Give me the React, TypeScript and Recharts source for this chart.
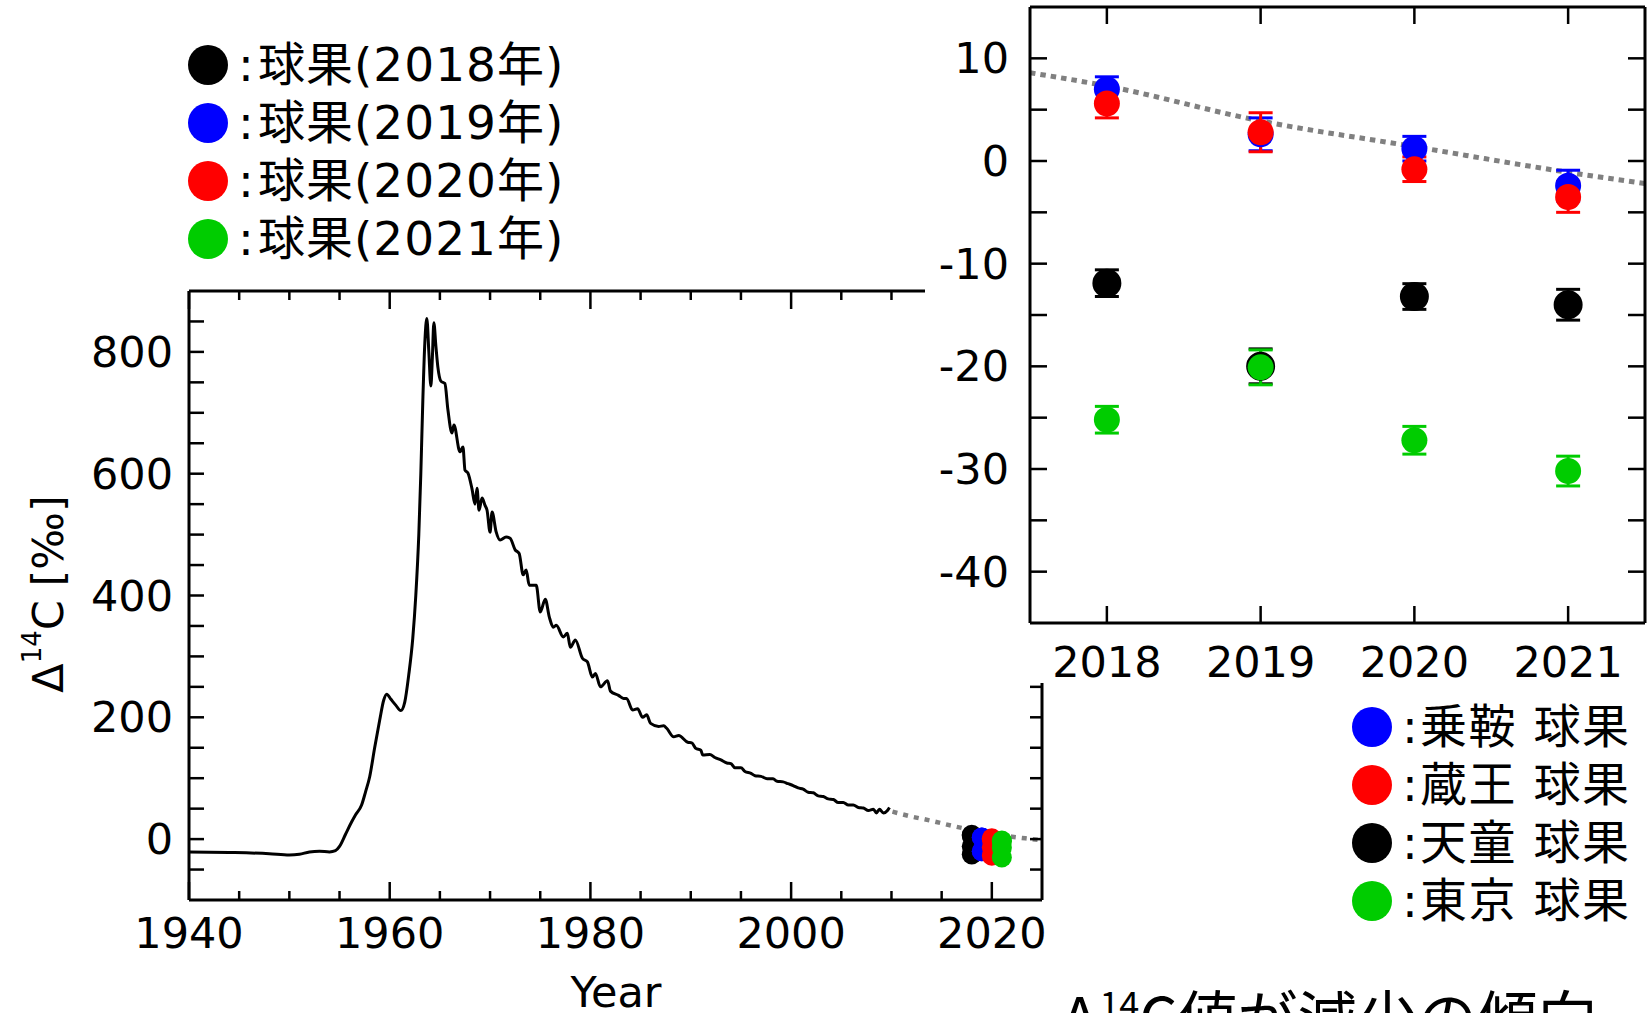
import React from "react";
import { ComposedChart, Line, Scatter, XAxis, YAxis, ErrorBar } from "recharts";

// atmospheric Δ14C record
const bombYears = [
  1940, 1944, 1948, 1950, 1951, 1952, 1953, 1954, 1954.6, 1955, 1955.6, 1956.2, 1956.6, 1957.2, 1957.6,
  1958, 1958.5, 1959, 1959.4, 1959.7, 1960.1, 1960.6, 1961.1, 1961.5, 1961.9, 1962.3, 1962.6, 1962.9,
  1963.1, 1963.3, 1963.5, 1963.7, 1963.9, 1964.1, 1964.25, 1964.4, 1964.6, 1964.8, 1965.1, 1965.5,
  1965.8, 1966.2, 1966.4, 1967.0, 1967.3, 1967.5, 1967.8, 1968.2, 1968.5, 1968.7, 1968.9, 1969.2,
  1969.5, 1969.7, 1970.0, 1970.2, 1970.6, 1971.0, 1971.6, 1972.0, 1972.5, 1972.9, 1973.3, 1973.6,
  1973.9, 1974.6, 1975.0, 1975.5, 1975.9, 1976.3, 1976.6, 1977.3, 1977.7, 1978.0, 1978.5, 1979.2,
  1979.7, 1980.2, 1980.5, 1981.0, 1981.7, 1982.0, 1982.8, 1983.3, 1983.6, 1984.2, 1984.7, 1985.2,
  1985.6, 1986.0, 1986.8, 1987.3, 1987.6, 1988.3, 1988.8, 1989.7, 1990.1, 1990.5, 1991.0, 1991.2,
  1991.9, 1992.4, 1993.0, 1993.6, 1994.0, 1994.4, 1995.0, 1995.4, 1996.0, 1996.4, 1997.0, 1997.6,
  1998.2, 1998.6, 1999.2, 1999.7, 2000.2, 2000.7, 2001.2, 2001.7, 2002.2, 2002.7, 2003.2, 2003.7,
  2004.2, 2004.7, 2005.2, 2005.7, 2006.2, 2006.7, 2007.2, 2007.7, 2008.2, 2008.5, 2008.8, 2009.2,
  2009.6, 2009.8,
];
const bombDelta = [
  -21, -22, -24, -26, -25, -21, -20, -21, -19, -12, 8, 28, 40, 56, 78,
  102, 150, 195, 228, 238, 230, 220, 211, 225, 270, 330, 400, 500,
  600, 720, 815, 855, 800, 744, 790, 848, 810, 775, 752, 748,
  705, 667, 680, 636, 644, 606, 601, 575, 550, 576, 540, 560,
  548, 540, 504, 537, 505, 491, 496, 494, 475, 469, 434, 442,
  417, 417, 373, 394, 365, 348, 351, 332, 338, 315, 327, 297,
  291, 266, 272, 250, 260, 243, 236, 231, 231, 212, 214, 200,
  204, 190, 185, 186, 182, 168, 170, 159, 158, 149, 146, 138,
  139, 134, 130, 125, 124, 117, 117, 111, 108, 104, 103, 99,
  99, 95, 94, 91, 88, 84, 82, 77, 76, 71, 70, 66,
  65, 60, 60, 56, 56, 52, 51, 47, 49, 43, 49, 43,
  47, 52,
];

// dotted extrapolation in the main panel
const extrapYears = [2010.1, 2012, 2014, 2016, 2018, 2020, 2022, 2024, 2025];
const extrapDelta = [45, 37, 30, 22, 15, 9, 4, 0, -2];

// dotted trend in the inset
const insetTrendYears = [2017.5, 2018, 2019, 2020, 2021, 2021.5];
const insetTrendDelta = [8.6, 7.3, 3.9, 1.4, -1.1, -2.2];

const sampleYears = [2018, 2019, 2020, 2021];
const yearColors = ["#000000", "#0000ff", "#ff0000", "#00cc00"];

const siteNames = ["乗鞍", "蔵王", "天童", "東京"];
const siteColors = ["#0000ff", "#ff0000", "#000000", "#00cc00"];
const norikura = [7.0, 2.6, 1.2, -2.4];
const zao = [5.6, 2.8, -0.8, -3.5];
const tendo = [-11.9, -20.0, -13.2, -14.0];
const tokyo = [-25.2, -20.1, -27.2, -30.2];
const norikuraErr = [1.2, 1.6, 1.2, 1.5];
const zaoErr = [1.4, 1.9, 1.2, 1.5];
const tendoErr = [1.3, 1.7, 1.25, 1.5];
const tokyoErr = [1.3, 1.7, 1.35, 1.45];

// ticks
const mainXTicks = [1940, 1945, 1950, 1955, 1960, 1965, 1970, 1975, 1980, 1985, 1990, 1995, 2000, 2005, 2010, 2015, 2020];
const mainXLabels = [1940, 1960, 1980, 2000, 2020];
const mainYTicks = [-50, 0, 50, 100, 150, 200, 250, 300, 350, 400, 450, 500, 550, 600, 650, 700, 750, 800, 850];
const mainYLabels = [0, 200, 400, 600, 800];
const insetXTicks = [2018, 2019, 2020, 2021];
const insetYTicks = [-40, -35, -30, -25, -20, -15, -10, -5, 0, 5, 10];
const insetYLabels = [-40, -30, -20, -10, 0, 10];

const FONT = "'DejaVu Sans', 'Noto Sans CJK JP', sans-serif";
const GREY = "#808080";

const mainCurve = bombYears.map((year, i) => ({ year, v: bombDelta[i] }));
const extrapLine = extrapYears.map((year, i) => ({ year, v: extrapDelta[i] }));
const insetTrend = insetTrendYears.map((year, i) => ({ year, v: insetTrendDelta[i] }));

const siteValues = [norikura, zao, tendo, tokyo];
const siteErrors = [norikuraErr, zaoErr, tendoErr, tokyoErr];

const insetSeries = siteNames.map((name, s) => ({
  name,
  color: siteColors[s],
  points: sampleYears.map((year, i) => ({ year, v: siteValues[s][i], err: siteErrors[s][i] })),
}));

// main panel markers: one colour per sampling year, all sites
const yearMarkers = sampleYears.map((year, i) => ({
  year,
  color: yearColors[i],
  points: siteValues.map((vals) => ({ year, v: vals[i] })),
}));

// --- tick renderers (inward ticks, labels outside) ---
const bottomTick = (labels: number[], major: (v: number) => boolean, dy: number, shortLen: number, longLen: number) => (p: any) => {
  const v = p.payload.value;
  const long = major(v);
  return (
    <g>
      <line x1={p.x} x2={p.x} y1={p.y} y2={p.y - (long ? longLen : shortLen)} stroke="#000" strokeWidth={2.5} />
      {labels.includes(v) && (
        <text x={p.x} y={p.y + dy} textAnchor="middle" fontSize={43} fontFamily={FONT} fill="#000">
          {v}
        </text>
      )}
    </g>
  );
};

const topTick = (major: (v: number) => boolean, shortLen: number, longLen: number) => (p: any) => {
  const long = major(p.payload.value);
  return <line x1={p.x} x2={p.x} y1={p.y} y2={p.y + (long ? longLen : shortLen)} stroke="#000" strokeWidth={2.5} />;
};

const leftTick = (labels: number[], len: number, gap: number) => (p: any) => {
  const v = p.payload.value;
  return (
    <g>
      <line x1={p.x} x2={p.x + len} y1={p.y} y2={p.y} stroke="#000" strokeWidth={2.5} />
      {labels.includes(v) && (
        <text x={p.x - gap} y={p.y + 15} textAnchor="end" fontSize={43} fontFamily={FONT} fill="#000">
          {v}
        </text>
      )}
    </g>
  );
};

const rightTick = (len: number) => (p: any) => (
  <line x1={p.x} x2={p.x - len} y1={p.y} y2={p.y} stroke="#000" strokeWidth={2.5} />
);

const axisLine = { stroke: "#000", strokeWidth: 3 };

const MainPanel = () => (
  <ComposedChart
    width={1100}
    height={1013}
    margin={{ top: 290, right: 57, bottom: 53, left: 89 }}
  >
    <XAxis
      dataKey="year"
      type="number"
      domain={[1940, 2025]}
      allowDataOverflow
      ticks={mainXTicks}
      interval={0}
      height={60}
      tickSize={0}
      tickMargin={0}
      tickLine={false}
      axisLine={axisLine}
      tick={bottomTick(mainXLabels, (v) => v % 20 === 0, 48, 9, 18)}
    />
    <XAxis
      xAxisId="top"
      orientation="top"
      dataKey="year"
      type="number"
      domain={[1940, 2025]}
      allowDataOverflow
      ticks={mainXTicks}
      interval={0}
      height={1}
      tickSize={0}
      tickMargin={0}
      tickLine={false}
      axisLine={axisLine}
      tick={topTick((v) => v % 20 === 0, 9, 18)}
    />
    <YAxis
      type="number"
      domain={[-100, 900]}
      allowDataOverflow
      ticks={mainYTicks}
      interval={0}
      width={100}
      tickSize={0}
      tickMargin={0}
      tickLine={false}
      axisLine={axisLine}
      tick={leftTick(mainYLabels, 15, 16)}
    />
    <YAxis
      yAxisId="right"
      orientation="right"
      type="number"
      domain={[-100, 900]}
      allowDataOverflow
      ticks={mainYTicks}
      interval={0}
      width={1}
      tickSize={0}
      tickMargin={0}
      tickLine={false}
      axisLine={axisLine}
      tick={rightTick(12)}
    />

    {/* the record is bound to the top/right axes (same scales) so the frame is drawn */}
    <Line
      data={mainCurve}
      dataKey="v"
      xAxisId="top"
      yAxisId="right"
      type="monotone"
      stroke="#000"
      strokeWidth={3}
      dot={false}
      isAnimationActive={false}
    />
    <Line
      data={extrapLine}
      dataKey="v"
      type="monotone"
      stroke={GREY}
      strokeWidth={4.5}
      strokeDasharray="5 6"
      dot={false}
      isAnimationActive={false}
    />
    {yearMarkers.map((m) => (
      <Scatter
        key={m.year}
        data={m.points}
        dataKey="v"
        fill={m.color}
        isAnimationActive={false}
        shape={(p: any) => <circle cx={p.cx} cy={p.cy} r={10} fill={m.color} />}
      />
    ))}
  </ComposedChart>
);

const InsetPanel = () => (
  <ComposedChart width={723} height={700} margin={{ top: 6, right: 2, bottom: 37, left: 45 }}>
    <XAxis
      dataKey="year"
      type="number"
      domain={[2017.5, 2021.5]}
      allowDataOverflow
      ticks={insetXTicks}
      interval={0}
      height={40}
      tickSize={0}
      tickMargin={0}
      tickLine={false}
      axisLine={axisLine}
      tick={bottomTick(insetXTicks, () => true, 54, 17, 17)}
    />
    <XAxis
      xAxisId="top"
      orientation="top"
      dataKey="year"
      type="number"
      domain={[2017.5, 2021.5]}
      allowDataOverflow
      ticks={insetXTicks}
      interval={0}
      height={1}
      tickSize={0}
      tickMargin={0}
      tickLine={false}
      axisLine={axisLine}
      tick={topTick(() => true, 17, 17)}
    />
    <YAxis
      type="number"
      domain={[-45, 15]}
      allowDataOverflow
      ticks={insetYTicks}
      interval={0}
      width={60}
      tickSize={0}
      tickMargin={0}
      tickLine={false}
      axisLine={axisLine}
      tick={leftTick(insetYLabels, 17, 21)}
    />
    <YAxis
      yAxisId="right"
      orientation="right"
      type="number"
      domain={[-45, 15]}
      allowDataOverflow
      ticks={insetYTicks}
      interval={0}
      width={1}
      tickSize={0}
      tickMargin={0}
      tickLine={false}
      axisLine={axisLine}
      tick={rightTick(17)}
    />

    <Line
      data={insetTrend}
      dataKey="v"
      xAxisId="top"
      yAxisId="right"
      type="monotone"
      stroke={GREY}
      strokeWidth={5}
      strokeDasharray="5.5 5"
      dot={false}
      isAnimationActive={false}
    />
    {insetSeries.map((s) => (
      <Scatter
        key={s.name}
        data={s.points}
        dataKey="v"
        fill={s.color}
        isAnimationActive={false}
        shape={(p: any) => (
          <circle
            cx={p.cx}
            cy={p.cy}
            r={13}
            fill={s.color}
            stroke={s.color === "#000000" ? "#000" : "none"}
            strokeWidth={3}
          />
        )}
      >
        <ErrorBar dataKey="err" direction="y" width={12} strokeWidth={3} stroke={s.color} />
      </Scatter>
    ))}
  </ComposedChart>
);

const Overlay = () => (
  <svg
    width={1648}
    height={1013}
    style={{ position: "absolute", left: 0, top: 0, pointerEvents: "none" }}
    fontFamily={FONT}
  >
    {/* legend: sampling year */}
    {sampleYears.map((y, i) => (
      <g key={y}>
        <circle cx={208} cy={65 + i * 58} r={20} fill={yearColors[i]} />
        <text x={238} y={81 + i * 58} fontSize={47} fill="#000">
          :
        </text>
        <text x={258} y={81 + i * 58} fontSize={47} letterSpacing={1} fill="#000">
          {`球果(${y}年)`}
        </text>
      </g>
    ))}

    {/* legend: sites */}
    {siteNames.map((n, i) => (
      <g key={n}>
        <circle cx={1372} cy={727 + i * 58} r={20} fill={siteColors[i]} />
        <text x={1402} y={743 + i * 58} fontSize={47} fill="#000">
          :
        </text>
        <text x={1420} y={743 + i * 58} fontSize={47} letterSpacing={1.5} fill="#000">
          {n} 球果
        </text>
      </g>
    ))}

    {/* axis titles */}
    <text
      x={63}
      y={594}
      transform="rotate(-90, 63, 594)"
      textAnchor="middle"
      fontSize={43}
      fill="#000"
    >
      Δ
      <tspan fontSize={26} dy={-22}>
        14
      </tspan>
      <tspan dy={22}>C [‰]</tspan>
    </text>
    <text x={616} y={1007} textAnchor="middle" fontSize={43} fill="#000">
      Year
    </text>

    {/* caption, cut at the bottom edge */}
    <text x={1060} y={1041} fontSize={60} fill="#000" fontFamily="'Noto Sans CJK JP', sans-serif">
      Δ
      <tspan fontSize={36} dy={-23}>
        14
      </tspan>
      <tspan dy={23}>C値が減少の傾向</tspan>
    </text>
  </svg>
);

export default function App() {
  return (
    <div style={{ position: "absolute", left: 0, top: 0, width: 1648, height: 1013, background: "#fff", overflow: "hidden" }}>
      <div style={{ position: "absolute", left: 0, top: 0 }}>
        <MainPanel />
      </div>
      <div style={{ position: "absolute", left: 925, top: 0, width: 723, height: 683, background: "#fff", overflow: "visible" }}>
        <InsetPanel />
      </div>
      <Overlay />
    </div>
  );
}
